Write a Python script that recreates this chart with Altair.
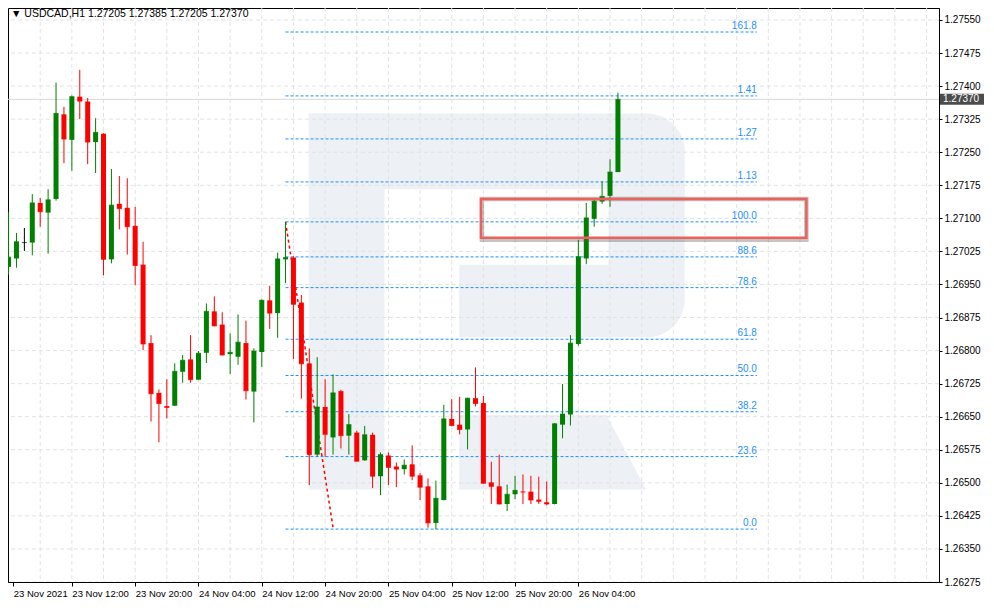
import altair as alt
import pandas as pd

# ---------------- data (USDCAD H1, bar 0 = 23 Nov 2021 04:00) ----------------
opens = [1.26990, 1.27009, 1.27045, 1.27045, 1.27135, 1.27113, 1.27144, 1.27336, 1.27278, 1.27376,
         1.27365, 1.27273, 1.27292, 1.27007, 1.27133, 1.27124, 1.27083, 1.26995, 1.26817, 1.26704,
         1.26674, 1.26675, 1.26752, 1.26780, 1.26734, 1.26795, 1.26889, 1.26859, 1.26792, 1.26786,
         1.26817, 1.26707, 1.26797, 1.26914, 1.26885, 1.27007, 1.27011, 1.26909, 1.26771, 1.26564,
         1.26672, 1.26603, 1.26708, 1.26607, 1.26614, 1.26551, 1.26609, 1.26515, 1.26562, 1.26537,
         1.26531, 1.26542, 1.26517, 1.26492, 1.26409, 1.26461, 1.26645, 1.26632, 1.26621, 1.26692,
         1.26681, 1.26501, 1.26492, 1.26452, 1.26474, 1.26480, 1.26480, 1.26462, 1.26456, 1.26452,
         1.26632, 1.26655, 1.26815, 1.27009, 1.27099, 1.27138, 1.27151, 1.27205]
highs = [1.27114, 1.27067, 1.27078, 1.27155, 1.27146, 1.27166, 1.27408, 1.27353, 1.27379, 1.27437,
         1.27373, 1.27327, 1.27293, 1.27212, 1.27196, 1.27191, 1.27126, 1.27047, 1.26835, 1.26712,
         1.26735, 1.26771, 1.26790, 1.26835, 1.26799, 1.26907, 1.26923, 1.26887, 1.26839, 1.26882,
         1.26868, 1.26805, 1.26916, 1.26947, 1.27022, 1.27092, 1.27014, 1.26926, 1.26805, 1.26785,
         1.26735, 1.26746, 1.26711, 1.26656, 1.26618, 1.26629, 1.26614, 1.26569, 1.26569, 1.26546,
         1.26553, 1.26585, 1.26522, 1.26510, 1.26505, 1.26677, 1.26690, 1.26695, 1.26693, 1.26762,
         1.26697, 1.26548, 1.26564, 1.26496, 1.26516, 1.26519, 1.26516, 1.26514, 1.26503, 1.26635,
         1.26724, 1.26835, 1.27051, 1.27135, 1.27144, 1.27184, 1.27234, 1.27385]
lows = [1.26972, 1.26988, 1.27026, 1.27016, 1.27081, 1.27020, 1.27140, 1.27225, 1.27208, 1.27325,
        1.27223, 1.27203, 1.26971, 1.26998, 1.27075, 1.27018, 1.26948, 1.26801, 1.26639, 1.26592,
        1.26646, 1.26674, 1.26727, 1.26727, 1.26733, 1.26772, 1.26855, 1.26789, 1.26747, 1.26768,
        1.26689, 1.26637, 1.26763, 1.26849, 1.26829, 1.26953, 1.26781, 1.26691, 1.26495, 1.26559,
        1.26559, 1.26564, 1.26578, 1.26564, 1.26548, 1.26550, 1.26488, 1.26472, 1.26495, 1.26490,
        1.26519, 1.26506, 1.26461, 1.26398, 1.26395, 1.26460, 1.26628, 1.26610, 1.26576, 1.26673,
        1.26498, 1.26452, 1.26451, 1.26436, 1.26463, 1.26452, 1.26452, 1.26452, 1.26449, 1.26451,
        1.26601, 1.26630, 1.26811, 1.26996, 1.27081, 1.27133, 1.27126, 1.27205]
closes = [1.27012, 1.27047, 1.27045, 1.27135, 1.27115, 1.27142, 1.27338, 1.27280, 1.27376, 1.27366,
          1.27273, 1.27295, 1.27007, 1.27130, 1.27122, 1.27081, 1.26993, 1.26815, 1.26702, 1.26680,
          1.26671, 1.26753, 1.26778, 1.26734, 1.26794, 1.26889, 1.26856, 1.26790, 1.26796, 1.26819,
          1.26709, 1.26799, 1.26914, 1.26885, 1.27008, 1.27011, 1.26905, 1.26770, 1.26564, 1.26672,
          1.26610, 1.26704, 1.26607, 1.26632, 1.26549, 1.26609, 1.26515, 1.26564, 1.26535, 1.26531,
          1.26540, 1.26515, 1.26490, 1.26409, 1.26465, 1.26645, 1.26630, 1.26621, 1.26692, 1.26680,
          1.26499, 1.26492, 1.26452, 1.26474, 1.26483, 1.26479, 1.26461, 1.26458, 1.26452, 1.26634,
          1.26656, 1.26817, 1.27013, 1.27101, 1.27139, 1.27150, 1.27205, 1.27370]

price_ticks = [1.26275, 1.26350, 1.26425, 1.26500, 1.26575, 1.26650, 1.26725, 1.26800, 1.26875,
               1.26950, 1.27025, 1.27100, 1.27175, 1.27250, 1.27325, 1.27400, 1.27475, 1.27550]
time_tick_bars = [0.6, 8, 16, 24, 32, 40, 48, 56, 64, 72]
time_tick_labels = ["23 Nov 2021", "23 Nov 12:00", "23 Nov 20:00", "24 Nov 04:00", "24 Nov 12:00",
                    "24 Nov 20:00", "25 Nov 04:00", "25 Nov 12:00", "25 Nov 20:00", "26 Nov 04:00"]
grid_bars = list(range(4, 117, 4))

fib_ratios = [0.0, 0.236, 0.382, 0.5, 0.618, 0.786, 0.886, 1.0, 1.13, 1.27, 1.41, 1.618]
fib_labels = ["0.0", "23.6", "38.2", "50.0", "61.8", "78.6", "88.6", "100.0", "1.13", "1.27", "1.41", "161.8"]
fib_low, fib_high = 1.26395, 1.27092
fib_bar_start, fib_bar_end = 35, 94.56

trend_bars = [35, 41.03]
trend_prices = [1.27092, 1.26395]

last_price = 1.27370
box_bars = [59.69, 100.81]
box_prices = [1.27056, 1.27144]

title_text = "\u25BC USDCAD,H1  1.27205 1.27385 1.27205 1.27370"

# watermark "R" outline in bar / price units
wm_x1 = [37.94, 37.94, 56.94]
wm_x2 = [47.50, 75.90, 75.90]
wm_p1 = [1.26485, 1.27166, 1.26830]
wm_p2 = [1.27338, 1.27338, 1.26995]
bowl_x = [75.80, 85.44]
bowl_p = [1.26830, 1.27338]
leg_p = [1.26485, 1.26654]
leg_x1 = [56.94, 56.94]
leg_x2 = [80.56, 75.56]

# ---------------- frames ----------------
dirs = ["up" if c > o else ("down" if c < o else "flat") for o, c in zip(opens, closes)]
candles = pd.DataFrame({"bar": list(range(len(opens))), "open": opens, "high": highs,
                        "low": lows, "close": closes, "dir": dirs})
fib = pd.DataFrame({"price": [fib_low + r * (fib_high - fib_low) for r in fib_ratios],
                    "label": fib_labels, "b1": fib_bar_start, "b2": fib_bar_end})
trend = pd.DataFrame({"bar": trend_bars, "price": trend_prices})
box = pd.DataFrame({"b1": [box_bars[0]], "b2": [box_bars[1]], "p1": [box_prices[0]], "p2": [box_prices[1]]})
hgrid = pd.DataFrame({"price": price_ticks})
vgrid = pd.DataFrame({"bar": grid_bars})
wm = pd.DataFrame({"b1": wm_x1, "b2": wm_x2, "p1": wm_p1, "p2": wm_p2})
bowl = pd.DataFrame({"b1": [bowl_x[0]], "b2": [bowl_x[1]], "p1": [bowl_p[0]], "p2": [bowl_p[1]]})
leg = pd.DataFrame({"p": leg_p, "b1": leg_x1, "b2": leg_x2})
lastdf = pd.DataFrame({"price": [last_price], "txt": [f"{last_price:.5f}"]})
one = pd.DataFrame({"t": [title_text]})

# ---------------- scales / axes ----------------
W, H = 931, 574
x0 = 0.5625
xs = alt.Scale(domain=[x0, x0 + W / 8], nice=False, zero=False)
ys = alt.Scale(domain=[1.26275, 1.275772], nice=False, zero=False)

parts = [f"abs(datum.value - {b}) < 0.01 ? '{l}'" for b, l in zip(time_tick_bars, time_tick_labels)]
label_expr = " : ".join(parts) + " : ''"

FONT = "Liberation Sans"
x_axis = alt.Axis(values=time_tick_bars, labelExpr=label_expr, labelAlign="left", labelFlush=False,
                  labelOverlap=False, grid=False, tickSize=4, tickColor="black", domainColor="black",
                  labelPadding=2, labelFont=FONT, labelFontSize=9.5, labelColor="black", title=None)
y_axis = alt.Axis(orient="right", values=price_ticks, format=".5f", grid=False, tickSize=3,
                  tickColor="black", domainColor="black", labelPadding=2, labelFont=FONT,
                  labelFontSize=10, labelColor="black", labelOverlap=False, labelFlush=False, title=None)


def X(f):
    return alt.X(f, type="quantitative", scale=xs, axis=x_axis, title=None)


def Y(f):
    return alt.Y(f, type="quantitative", scale=ys, axis=y_axis, title=None)


color = alt.Color("dir:N", scale=alt.Scale(domain=["up", "down", "flat"],
                                           range=["#008000", "#ff0000", "#000000"]), legend=None)
WM = "#edf0f5"

layers = [
    alt.Chart(wm).mark_rect(color=WM, clip=True).encode(x=X("b1"), x2="b2", y=Y("p1"), y2="p2"),
    alt.Chart(bowl).mark_rect(color=WM, clip=True, cornerRadiusTopRight=58, cornerRadiusBottomRight=58)
        .encode(x=X("b1"), x2="b2", y=Y("p1"), y2="p2"),
    alt.Chart(leg).mark_area(color=WM, orient="horizontal", clip=True)
        .encode(y=Y("p"), x=X("b1"), x2="b2"),
    alt.Chart(hgrid).mark_rule(color="#e2e2e2", strokeDash=[4, 3], strokeWidth=1, clip=True)
        .encode(y=Y("price")),
    alt.Chart(vgrid).mark_rule(color="#e2e2e2", strokeDash=[4, 3], strokeWidth=1, clip=True)
        .encode(x=X("bar")),
    alt.Chart(lastdf).mark_rule(color="#d8d8d8", strokeWidth=1, clip=True).encode(y=Y("price")),
    alt.Chart(fib).mark_rule(color="#1e90ff", strokeDash=[3, 2], strokeWidth=1, clip=True)
        .encode(x=X("b1"), x2="b2", y=Y("price")),
    alt.Chart(fib).mark_text(color="#1e90ff", align="right", baseline="bottom", dy=-1,
                             font=FONT, fontSize=10)
        .encode(x=X("b2"), y=Y("price"), text="label:N"),
    alt.Chart(trend).mark_line(color="#ff0000", strokeDash=[3, 3], strokeWidth=1.5, clip=True)
        .encode(x=X("bar"), y=Y("price")),
    alt.Chart(candles).mark_rule(strokeWidth=1, clip=True)
        .encode(x=X("bar"), y=Y("low"), y2="high", color=color),
    alt.Chart(candles).mark_bar(size=5, clip=True)
        .encode(x=X("bar"), y=Y("open"), y2="close", color=color),
    alt.Chart(candles).mark_tick(orient="horizontal", size=5, thickness=1, clip=True)
        .encode(x=X("bar"), y=Y("close"), color=color),
    alt.Chart(box).mark_rect(fillOpacity=0, stroke="#555555", strokeOpacity=0.35, strokeWidth=4.5,
                             xOffset=1, yOffset=2, clip=True)
        .encode(x=X("b1"), x2="b2", y=Y("p1"), y2="p2"),
    alt.Chart(box).mark_rect(fillOpacity=0, stroke="#f0605a", strokeWidth=2.5, clip=True)
        .encode(x=X("b1"), x2="b2", y=Y("p1"), y2="p2"),
    alt.Chart(one).mark_text(align="left", baseline="top", font=FONT, fontSize=10.5, color="black")
        .encode(x=alt.value(3), y=alt.value(1), text="t:N"),
    alt.Chart(lastdf).mark_tick(orient="horizontal", size=44, thickness=11, color="black")
        .encode(x=alt.value(W + 23), y=Y("price")),
    alt.Chart(lastdf).mark_text(align="left", baseline="middle", font=FONT, fontSize=10, color="white")
        .encode(x=alt.value(W + 4), y=Y("price"), text="txt:N"),
]

chart = alt.layer(*layers).properties(width=W, height=H, padding=0, background="white") \
    .configure_view(stroke="black", strokeWidth=1)

chart.save("out.html", embed_options={"renderer": "svg", "actions": False})
